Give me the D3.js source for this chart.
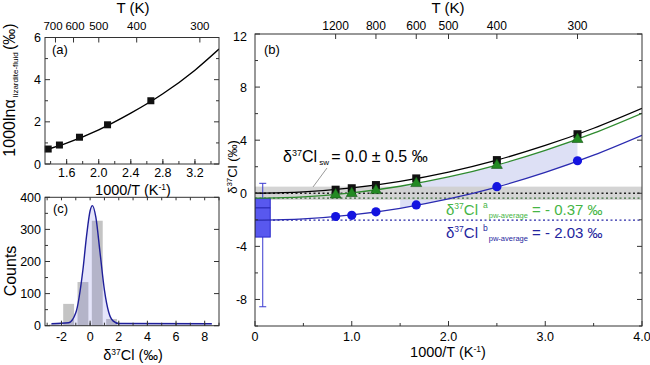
<!DOCTYPE html>
<html><head><meta charset="utf-8">
<script src="https://cdn.jsdelivr.net/npm/d3@7"></script>
<style>
body{margin:0;background:#fff;}
svg{display:block;font-family:"Liberation Sans",Arial,sans-serif;}
</style></head>
<body>
<svg id="chart" width="650" height="365"></svg>
<script>
// ---------- DATA ----------
// Panel (a): fractionation factor vs 1000/T
const aPointX = [1.37, 1.51, 1.76, 2.11, 2.65];
const aPointY = [0.71, 0.90, 1.27, 1.86, 3.00];
const aCurveX = [1.33, 1.6, 2.0, 2.4, 2.8, 3.2, 3.5];
const aCurveY = [0.66, 0.99, 1.62, 2.41, 3.33, 4.45, 5.45];
const aTopT = [700, 600, 500, 400, 300];
const aXTicks = [1.6, 2.0, 2.4, 2.8, 3.2];
const aYTicks = [0, 2, 4, 6];

// Panel (c): histogram of δ37Cl
const cBinCenter = [-2.5, -1.5, -0.5, 0.5, 1.5];
const cCounts = [4, 68, 136, 327, 21];
const cFitX = [-2.7, -1.5, -1.0, -0.5, -0.25, 0.0, 0.16, 0.4, 0.7, 1.0, 1.3, 1.6, 2.0, 8.5];
const cFitY = [6, 9, 40, 175, 279, 358, 374, 338, 225, 111, 42, 15, 7, 6];
const cXTicks = [-2, 0, 2, 4, 6, 8];
const cYTicks = [0, 100, 200, 300, 400];

// Panel (b): δ37Cl vs 1000/T
const bTempK = [1200, 1000, 800, 600, 400, 300];
const bSerpentine = [0.27, 0.38, 0.62, 1.12, 2.50, 4.45];
const bSerpA = [-0.08, 0.03, 0.25, 0.78, 2.15, 4.10];
const bSerpB = [-1.75, -1.66, -1.40, -0.88, 0.50, 2.45];
const bCurveX = [0, 0.5, 1.0, 1.5, 2.0, 2.5, 3.0, 3.5, 4.0];
const bCurveSerp = [0, 0.10, 0.40, 0.90, 1.60, 2.50, 3.60, 4.90, 6.40];
const bCurveA = [-0.37, -0.27, 0.03, 0.53, 1.23, 2.13, 3.23, 4.53, 6.03];
const bCurveB = [-2.03, -1.93, -1.63, -1.13, -0.43, 0.47, 1.57, 2.87, 4.37];
const bShadeRange = [1.5, 3.333];
const bTopT = [1200, 800, 600, 500, 400, 300];
const bXTicks = [0, 1, 2, 3, 4];
const bXTickLabels = ["0", "1.0", "2.0", "3.0", "4.0"];
const bYTicks = [-8, -4, 0, 4, 8, 12];
const swMean = 0.0, swErr = 0.5;
const pwAverageA = -0.37, pwAverageB = -2.03;
// box plot of pore water values
const boxX = 0.08, boxW = 0.155;
const boxStats = {whiskerHigh: 0.75, q3: -0.4, median: -1.1, q1: -3.3, whiskerLow: -8.55};

// ---------- DRAW ----------
const svg = d3.select("#chart");
const FRAME = "#333";
const TICKFS = "12.5px";

function frame(g, x0, x1, y0, y1) {
  g.append("rect").attr("x", x0).attr("y", y0).attr("width", x1 - x0).attr("height", y1 - y0)
    .attr("fill", "none").attr("stroke", FRAME).attr("stroke-width", 1);
}
function ticksH(g, scale, vals, y, len, dir) {
  g.selectAll(null).data(vals).join("line")
    .attr("x1", d => scale(d)).attr("x2", d => scale(d))
    .attr("y1", y).attr("y2", y + dir * len).attr("stroke", FRAME).attr("stroke-width", 1);
}
function ticksV(g, scale, vals, x, len, dir) {
  g.selectAll(null).data(vals).join("line")
    .attr("y1", d => scale(d)).attr("y2", d => scale(d))
    .attr("x1", x).attr("x2", x + dir * len).attr("stroke", FRAME).attr("stroke-width", 1);
}
function range(a, b, s) { const r = []; for (let v = a; v <= b + 1e-9; v += s) r.push(+v.toFixed(4)); return r; }

// ===== Panel (a) =====
{
  const x = d3.scaleLinear().domain([1.33, 3.5]).range([45, 219]);
  const xTop = d3.scaleLinear().domain([1.33, 3.5]).range([48, 212.5]);
  const y = d3.scaleLinear().domain([0, 6]).range([164, 37.5]);
  const g = svg.append("g");
  g.append("clipPath").attr("id", "clipA").append("rect").attr("x", 45).attr("y", 37.5).attr("width", 174).attr("height", 126.5);
  const line = d3.line().x((d, i) => x(aCurveX[i])).y(d => y(d)).curve(d3.curveMonotoneX);
  g.append("path").attr("d", line(aCurveY)).attr("fill", "none").attr("stroke", "#000").attr("stroke-width", 1.4).attr("clip-path", "url(#clipA)");
  g.selectAll(null).data(aPointY).join("rect")
    .attr("x", (d, i) => x(aPointX[i]) - 3.5).attr("y", d => y(d) - 3.5).attr("width", 7).attr("height", 7).attr("fill", "#111");
  frame(g, 45, 219, 37.5, 164);
  ticksH(g, x, range(1.4, 3.4, 0.2), 164, 3, -1);
  ticksH(g, x, aXTicks, 164, 5, -1);
  ticksH(g, xTop, aTopT.map(t => 1000 / t), 37.5, 5, 1);
  ticksV(g, y, aYTicks, 45, 5, 1);
  ticksV(g, y, aYTicks, 219, 5, -1);
  ticksV(g, y, [1, 3, 5], 45, 3, 1);
  ticksV(g, y, [1, 3, 5], 219, 3, -1);
  g.selectAll(null).data(aXTicks).join("text").attr("x", d => x(d)).attr("y", 177)
    .attr("text-anchor", "middle").style("font-size", TICKFS).text(d => d.toFixed(1));
  g.selectAll(null).data(aYTicks).join("text").attr("x", 41).attr("y", d => y(d) + 4.5)
    .attr("text-anchor", "end").style("font-size", TICKFS).text(d => d);
  const topNudge = {700: -2.5, 600: 1.5};
  g.selectAll(null).data(aTopT).join("text").attr("x", d => xTop(1000 / d)).attr("dx", d => topNudge[d] || 0).attr("y", 30)
    .attr("text-anchor", "middle").style("font-size", "11.5px").text(d => d);
  g.append("text").attr("x", 133).attr("y", 13).attr("text-anchor", "middle").style("font-size", "15px").text("T (K)");
  const xt = g.append("text").attr("x", 133).attr("y", 195).attr("text-anchor", "middle").style("font-size", "14.5px");
  xt.append("tspan").text("1000/T (K");
  xt.append("tspan").attr("dy", -5).style("font-size", "8.5px").text("-1");
  xt.append("tspan").attr("dy", 5).text(")");
  const yt = g.append("text").attr("transform", "translate(15,90) rotate(-90)").attr("text-anchor", "middle").style("font-size", "16px");
  yt.append("tspan").text("1000lnα");
  yt.append("tspan").attr("dy", 3).style("font-size", "8px").text(" lizardite-fluid ");
  yt.append("tspan").attr("dy", -3).text("(‰)");
  g.append("text").attr("x", 52).attr("y", 54).style("font-size", "13px").text("(a)");
}

// ===== Panel (c) =====
{
  const x = d3.scaleLinear().domain([-3.15, 9]).range([45, 219]);
  const y = d3.scaleLinear().domain([0, 400]).range([325.7, 197.3]);
  const g = svg.append("g");
  const halfW = 0.38;
  g.selectAll(null).data(cCounts).join("rect")
    .attr("x", (d, i) => x(cBinCenter[i] - halfW)).attr("width", (d, i) => x(cBinCenter[i] + halfW) - x(cBinCenter[i] - halfW))
    .attr("y", d => y(d)).attr("height", d => y(0) - y(d)).attr("fill", "#c4c4c4");
  const area = d3.area().x((d, i) => x(cFitX[i])).y0(y(0)).y1(d => y(d)).curve(d3.curveMonotoneX);
  g.append("path").attr("d", area(cFitY)).attr("fill", "rgba(110,110,230,0.18)");
  const line = d3.line().x((d, i) => x(cFitX[i])).y(d => y(d)).curve(d3.curveMonotoneX);
  g.append("path").attr("d", line(cFitY)).attr("fill", "none").attr("stroke", "#1f1f9a").attr("stroke-width", 1.4);
  frame(g, 45, 219, 197.3, 325.7);
  ticksH(g, x, range(-3, 9, 1), 325.7, 3, -1);
  ticksH(g, x, cXTicks, 325.7, 5, -1);
  ticksH(g, x, range(-3, 9, 1), 197.3, 3, 1);
  ticksV(g, y, range(50, 350, 100), 45, 3, 1);
  ticksV(g, y, cYTicks, 45, 5, 1);
  ticksV(g, y, cYTicks, 219, 5, -1);
  g.selectAll(null).data(cXTicks).join("text").attr("x", d => x(d)).attr("y", 341)
    .attr("text-anchor", "middle").style("font-size", TICKFS).text(d => d);
  g.selectAll(null).data(cYTicks).join("text").attr("x", 41).attr("y", d => y(d) + 4.5)
    .attr("text-anchor", "end").style("font-size", TICKFS).text(d => d);
  const xt = g.append("text").attr("x", 133).attr("y", 360).attr("text-anchor", "middle").style("font-size", "14.5px");
  xt.append("tspan").text("δ");
  xt.append("tspan").attr("dy", -5).style("font-size", "8.5px").text("37");
  xt.append("tspan").attr("dy", 5).text("Cl (‰)");
  g.append("text").attr("transform", "translate(16,271) rotate(-90)").attr("text-anchor", "middle").style("font-size", "16px").text("Counts");
  g.append("text").attr("x", 53).attr("y", 213).style("font-size", "13px").text("(c)");
}

// ===== Panel (b) =====
{
  const x = d3.scaleLinear().domain([0, 4]).range([255, 642]);
  const y = d3.scaleLinear().domain([-10, 12]).range([326, 34]);
  const g = svg.append("g");
  g.append("clipPath").attr("id", "clipB").append("rect").attr("x", 255).attr("y", 34).attr("width", 387).attr("height", 292);
  g.append("clipPath").attr("id", "clipShade").append("rect")
    .attr("x", x(bShadeRange[0])).attr("y", 34).attr("width", x(bShadeRange[1]) - x(bShadeRange[0])).attr("height", 292);
  const pg = g.append("g").attr("clip-path", "url(#clipB)");
  const shade = d3.area().x((d, i) => x(bCurveX[i])).y0((d, i) => y(bCurveB[i])).y1(d => y(d)).curve(d3.curveMonotoneX);
  pg.append("path").attr("d", shade(bCurveA)).attr("fill", "#dde0f5").attr("clip-path", "url(#clipShade)");
  pg.append("rect").attr("x", x(0)).attr("width", x(4) - x(0)).attr("y", y(swMean + swErr))
    .attr("height", y(swMean - swErr) - y(swMean + swErr)).attr("fill", "#cfcfcf").attr("opacity", 0.9);
  const dotted = [[swMean, "#222"], [pwAverageA, "#3a6a3a"], [pwAverageB, "#2a2aa8"]];
  pg.selectAll(null).data(dotted).join("line")
    .attr("x1", x(0)).attr("x2", x(4)).attr("y1", d => y(d[0])).attr("y2", d => y(d[0]))
    .attr("stroke", d => d[1]).attr("stroke-width", 1.3).attr("stroke-dasharray", "2,2.5");
  const bx0 = x(boxX - boxW / 2), bx1 = x(boxX + boxW / 2), bxc = x(boxX);
  pg.append("line").attr("x1", bxc).attr("x2", bxc).attr("y1", y(boxStats.whiskerHigh)).attr("y2", y(boxStats.whiskerLow)).attr("stroke", "#3a3ad0").attr("stroke-width", 1);
  pg.selectAll(null).data([boxStats.whiskerHigh, boxStats.whiskerLow]).join("line")
    .attr("x1", bxc - 3.5).attr("x2", bxc + 3.5).attr("y1", d => y(d)).attr("y2", d => y(d)).attr("stroke", "#3a3ad0").attr("stroke-width", 1);
  pg.append("rect").attr("x", bx0).attr("width", bx1 - bx0).attr("y", y(boxStats.q3)).attr("height", y(boxStats.q1) - y(boxStats.q3))
    .attr("fill", "#5858ef").attr("stroke", "#2a2acc").attr("stroke-width", 1);
  pg.append("line").attr("x1", bx0).attr("x2", bx1).attr("y1", y(boxStats.median)).attr("y2", y(boxStats.median)).attr("stroke", "#2020aa").attr("stroke-width", 1);
  const mk = arr => d3.line().x((d, i) => x(bCurveX[i])).y(d => y(d)).curve(d3.curveMonotoneX)(arr);
  pg.append("path").attr("d", mk(bCurveB)).attr("fill", "none").attr("stroke", "#2a2ab0").attr("stroke-width", 1.3);
  pg.append("path").attr("d", mk(bCurveA)).attr("fill", "none").attr("stroke", "#2e8a2e").attr("stroke-width", 1.3);
  pg.append("path").attr("d", mk(bCurveSerp)).attr("fill", "none").attr("stroke", "#000").attr("stroke-width", 1.3);
  const tx = bTempK.map(t => 1000 / t);
  pg.selectAll(null).data(bSerpentine).join("rect")
    .attr("x", (d, i) => x(tx[i]) - 4).attr("y", d => y(d) - 4).attr("width", 8).attr("height", 8).attr("fill", "#111");
  const tri = d3.symbol().type(d3.symbolTriangle).size(52);
  pg.selectAll(null).data(bSerpA).join("path").attr("d", tri)
    .attr("transform", (d, i) => `translate(${x(tx[i])},${y(d) + 0.5})`).attr("fill", "#238a23").attr("stroke", "#145214").attr("stroke-width", 0.6);
  pg.selectAll(null).data(bSerpB).join("circle")
    .attr("cx", (d, i) => x(tx[i])).attr("cy", d => y(d)).attr("r", 4.6).attr("fill", "#1414e0");
  frame(g, 255, 642, 34, 326);
  ticksH(g, x, range(0.5, 3.5, 1), 326, 3, -1);
  ticksH(g, x, bXTicks, 326, 5, -1);
  ticksH(g, x, bTopT.map(t => 1000 / t), 34, 5, 1);
  ticksV(g, y, range(-10, 10, 4), 255, 3, 1);
  ticksV(g, y, range(-10, 10, 4), 642, 3, -1);
  ticksV(g, y, bYTicks, 255, 5, 1);
  ticksV(g, y, bYTicks, 642, 5, -1);
  g.selectAll(null).data(bXTicks).join("text").attr("x", d => x(d)).attr("y", 341)
    .attr("text-anchor", "middle").style("font-size", TICKFS).text((d, i) => bXTickLabels[i]);
  g.selectAll(null).data(bYTicks).join("text").attr("x", 247).attr("y", d => y(d) + (d === 12 ? 7 : 4.5))
    .attr("text-anchor", "end").style("font-size", TICKFS).text(d => d);
  g.selectAll(null).data(bTopT).join("text").attr("x", d => x(1000 / d)).attr("y", 30)
    .attr("text-anchor", "middle").style("font-size", "12px").text(d => d);
  g.append("text").attr("x", 448).attr("y", 13).attr("text-anchor", "middle").style("font-size", "15px").text("T (K)");
  const xt = g.append("text").attr("x", 448).attr("y", 357).attr("text-anchor", "middle").style("font-size", "14.5px");
  xt.append("tspan").text("1000/T (K");
  xt.append("tspan").attr("dy", -5).style("font-size", "8.5px").text("-1");
  xt.append("tspan").attr("dy", 5).text(")");
  const yt = g.append("text").attr("transform", "translate(237,167) rotate(-90)").attr("text-anchor", "middle").style("font-size", "13px");
  yt.append("tspan").text("δ");
  yt.append("tspan").attr("dy", -5).style("font-size", "8px").text("37");
  yt.append("tspan").attr("dy", 5).text("Cl (‰)");
  g.append("text").attr("x", 264).attr("y", 54).style("font-size", "13px").text("(b)");
  g.append("line").attr("x1", 327).attr("y1", 168).attr("x2", 313).attr("y2", 187).attr("stroke", "#9a9a9a").attr("stroke-width", 1);
  const t1 = g.append("text").attr("x", 283).attr("y", 162).style("font-size", "16px").attr("fill", "#000");
  t1.append("tspan").text("δ");
  t1.append("tspan").attr("dy", -6).style("font-size", "9px").text("37");
  t1.append("tspan").attr("dy", 6).text("Cl");
  t1.append("tspan").attr("dy", 3).style("font-size", "8px").text(" sw ");
  t1.append("tspan").attr("dy", -3).text("= 0.0 ± 0.5 ‰");
  function pwText(yBase, sup, value, color) {
    const t = g.append("text").attr("x", 446).attr("y", yBase).style("font-size", "15px").attr("fill", color);
    t.append("tspan").text("δ");
    t.append("tspan").attr("dy", -6).style("font-size", "8.5px").text("37");
    t.append("tspan").attr("dy", 6).text("Cl");
    t.append("tspan").attr("dy", -7).attr("dx", 5).style("font-size", "8.5px").text(sup);
    t.append("tspan").attr("dy", 10).attr("dx", 1).style("font-size", "7.5px").text("pw-average");
    t.append("tspan").attr("dy", -3).text(" = - " + value.toFixed(2) + " ‰");
  }
  pwText(215, "a", Math.abs(pwAverageA), "#45b545");
  pwText(238, "b", Math.abs(pwAverageB), "#25259e");
}
</script>
</body></html>
